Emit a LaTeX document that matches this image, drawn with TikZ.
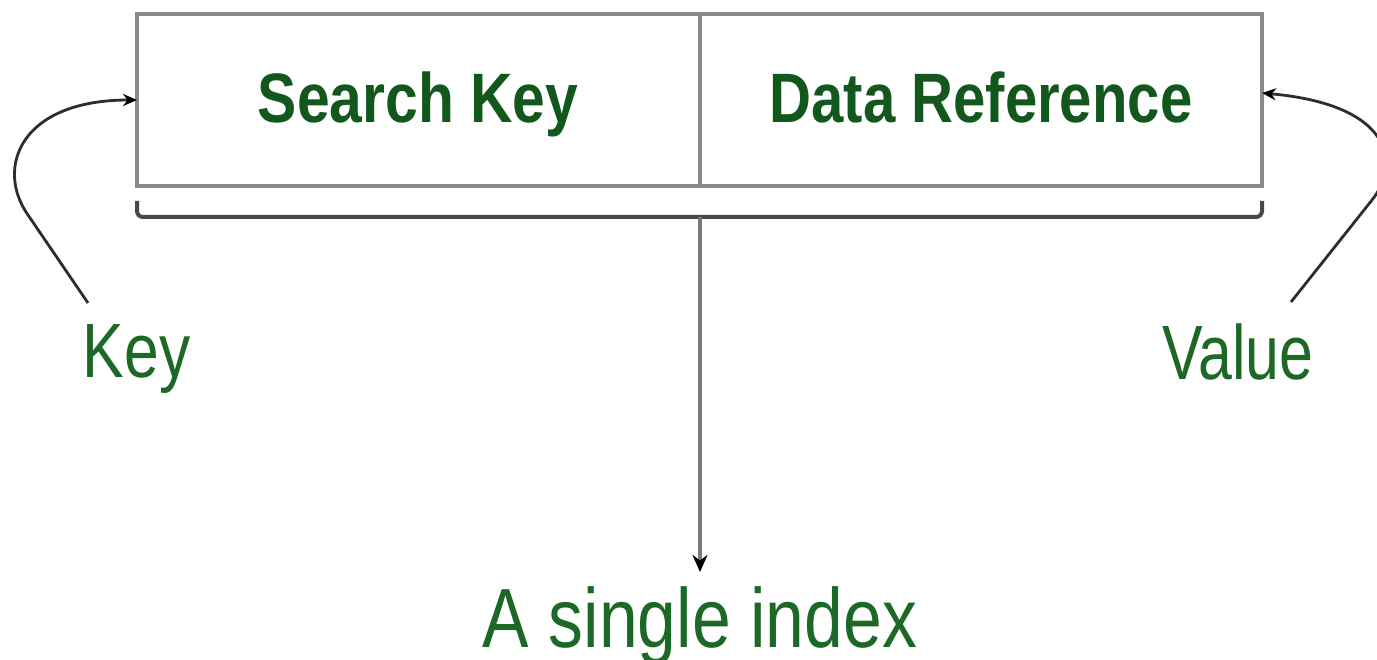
\documentclass[tikz,border=0pt]{standalone}
\usepackage{fontspec}
\setmainfont{Liberation Sans}
\usetikzlibrary{arrows.meta}
\definecolor{txtgreen}{RGB}{28,104,38}
\definecolor{boldgreen}{RGB}{18,88,28}
\definecolor{boxgray}{RGB}{138,138,138}
\definecolor{brgray}{RGB}{72,72,72}
\definecolor{vgray}{RGB}{122,122,122}
\definecolor{curvegray}{RGB}{45,45,45}
\tikzset{
  cell/.style={draw=boxgray, line width=4pt, inner sep=0pt, outer sep=0pt, minimum height=172pt},
  celltext/.style={text=boldgreen, inner sep=0pt, anchor=base, font=\fontsize{70}{72}\selectfont\bfseries},
  lbl/.style={text=txtgreen, inner sep=0pt, anchor=base},
  bracket/.style={draw=brgray, line width=4pt, rounded corners=6pt},
  downarrow/.style={draw=vgray, line width=4pt, -{Stealth[length=17pt,width=15pt,color=black]}},
  curvearrow/.style={draw=curvegray, line width=2.8pt, -{Stealth[length=14pt,width=12pt,color=black]}}
}
\begin{document}
\begin{tikzpicture}[x=1pt,y=-1pt]
\useasboundingbox[fill=white] (0,0) rectangle (1377,660);
% cells
\node[cell, minimum width=563pt] (sk) at (418.5,100) {};
\node[cell, minimum width=562pt] (dr) at (981,100) {};
\node[celltext] (skt) at (418,123) {\scalebox{0.84}[1]{Search Key}};
\node[celltext] (drt) at (981,123) {\scalebox{0.83}[1]{Data Reference}};
% bracket
\draw[bracket] (137,201) -- (137,217) -- (1262,217) -- (1262,201);
\coordinate (bc) at (700,217);
% labels
\node[lbl, font=\fontsize{77}{80}\selectfont] (key) at (136.5,378) {\scalebox{0.81}[1]{Key}};
\node[lbl, font=\fontsize{77}{80}\selectfont] (val) at (1238,380) {\scalebox{0.79}[1]{Value}};
\node[lbl, font=\fontsize{84}{86}\selectfont] (idx) at (700,647) {\scalebox{0.83}[1]{A single index}};
% connectors
\draw[downarrow, shorten >=14pt] (bc) -- (idx.north);
\coordinate (ks) at (88,303);
\coordinate (vs) at (1291,302);
\begin{scope}
\clip (0,0) rectangle (1377,660);
\draw[curvearrow] (ks) -- (28,215) .. controls (-5,168) and (20,100) .. (sk.west);
\draw[curvearrow] (vs) -- (1372,200) .. controls (1400,165) and (1395,105) .. ([yshift=7pt]dr.east);
\end{scope}
\end{tikzpicture}
\end{document}
